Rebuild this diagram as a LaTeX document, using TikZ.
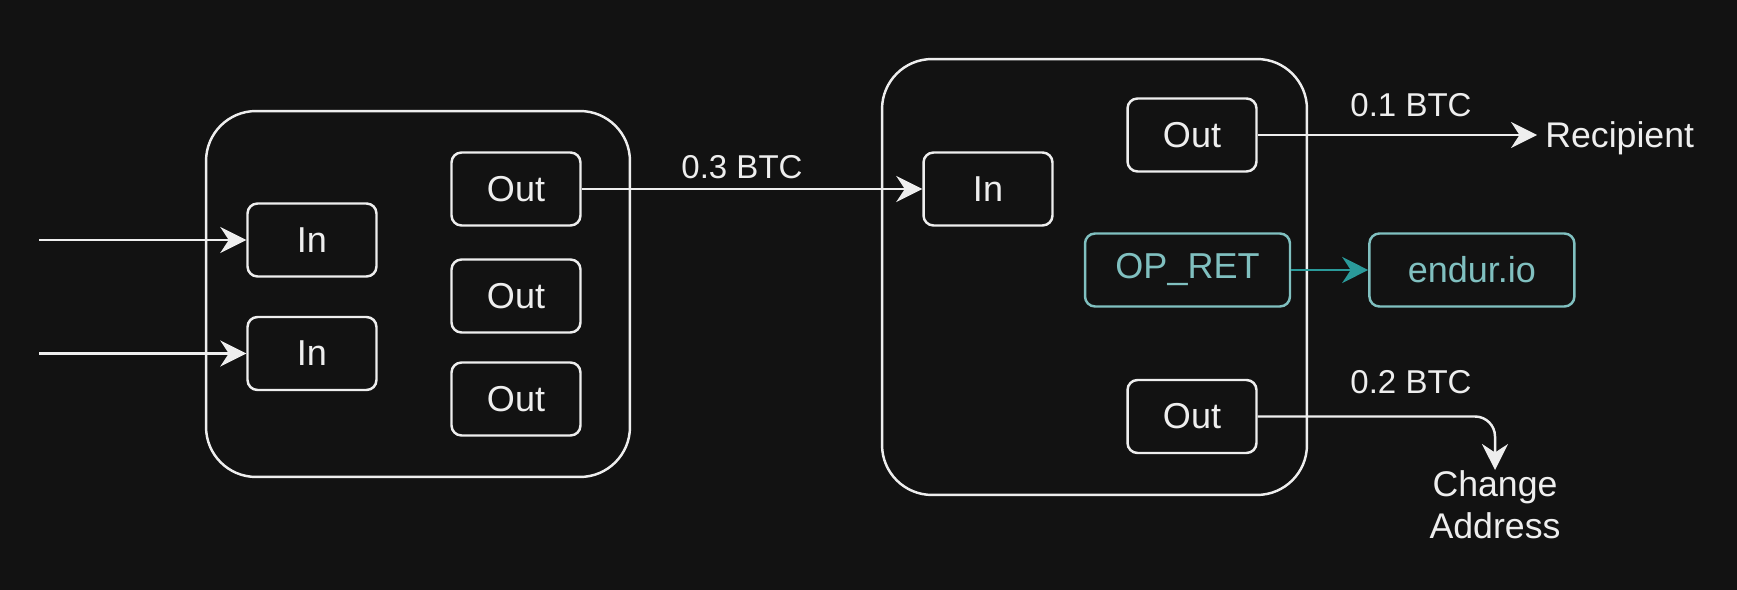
\documentclass[tikz,border=0pt]{standalone}
\usepackage{fontspec}
\setmainfont{Liberation Sans}
\usetikzlibrary{arrows.meta,positioning}
\definecolor{bgdark}{RGB}{18,18,18}
\definecolor{fgwhite}{RGB}{238,238,238}
\definecolor{tealline}{RGB}{128,192,192}
\definecolor{tealarrow}{RGB}{42,154,154}

\begin{document}
\begin{tikzpicture}[
    x=0.02cm, y=-0.02cm,
    txbox/.style={rectangle, rounded corners=1cm, draw=fgwhite, line width=1.4pt},
    port/.style={rectangle, rounded corners=0.2cm, draw=fgwhite, line width=1.4pt, text=fgwhite, minimum width=2.58cm, minimum height=1.46cm, font=\fontsize{20.5}{24}\selectfont},
    opbox/.style={port, draw=tealline, text=tealline, minimum width=4.1cm},
    dest/.style={text=fgwhite, font=\fontsize{20.3}{24.2}\selectfont},
    lbl/.style={text=fgwhite, inner sep=0pt, font=\fontsize{18.8}{22}\selectfont},
    arrow/.style={-{Stealth[length=0.52cm, width=0.52cm, inset=0.17cm]}, draw=fgwhite, line width=1.4pt},
]

% Background
\fill[bgdark] (0,0) rectangle (1737,590);
\useasboundingbox (0,0) rectangle (1737,590);

% First transaction
\node[txbox, minimum width=8.48cm, minimum height=7.32cm] (tx1) at (418,294) {};
\node[port] (in1) at (312,240) {In};
\node[port] (in2) at (312,353.5) {In};
\node[port] (out1) at (516,189) {Out};
\node[port] (out2) at (516,296) {Out};
\node[port] (out3) at (516,399) {Out};
\coordinate (src1) at (39,240);
\coordinate (src2) at (39,353.5);

% Second transaction
\node[txbox, minimum width=8.5cm, minimum height=8.72cm] (tx2) at (1094.5,277) {};
\node[port] (in3) at (988,189) {In};
\node[port] (out4) at (1192,135) {Out};
\node[opbox] (opret) at (1187.5,270) {OP\_RET};
\node[opbox, right=1.54cm of opret] (endur) {endur.io};
\node[port] (out5) at (1192,416.5) {Out};

% Destinations
\node[dest, anchor=west, inner sep=0.16cm, text depth=0pt] (rcp) at (1537,135) {Recipient};
\node[dest, anchor=north, align=center, inner sep=0pt] (chg) at (1495,470) {Change\\Address};

% Amounts
\node[lbl] (amt3) at (742,167) {0.3 BTC};
\node[lbl] (amt1) at (1411,105) {0.1 BTC};
\node[lbl] (amt2) at (1411,382) {0.2 BTC};

% Connections
\draw[arrow] (src1) -- (in1.west);
\draw[arrow] (src2) -- (in2.west);
\draw[arrow] (out1.east) -- (in3.west);
\draw[arrow] (out4.east) -- (rcp.west);
\draw[arrow, rounded corners=0.4cm] (out5.east) -| (chg.north);
\draw[arrow, draw=tealarrow, fill=tealarrow] (opret.east) -- (endur.west);

\end{tikzpicture}
\end{document}
